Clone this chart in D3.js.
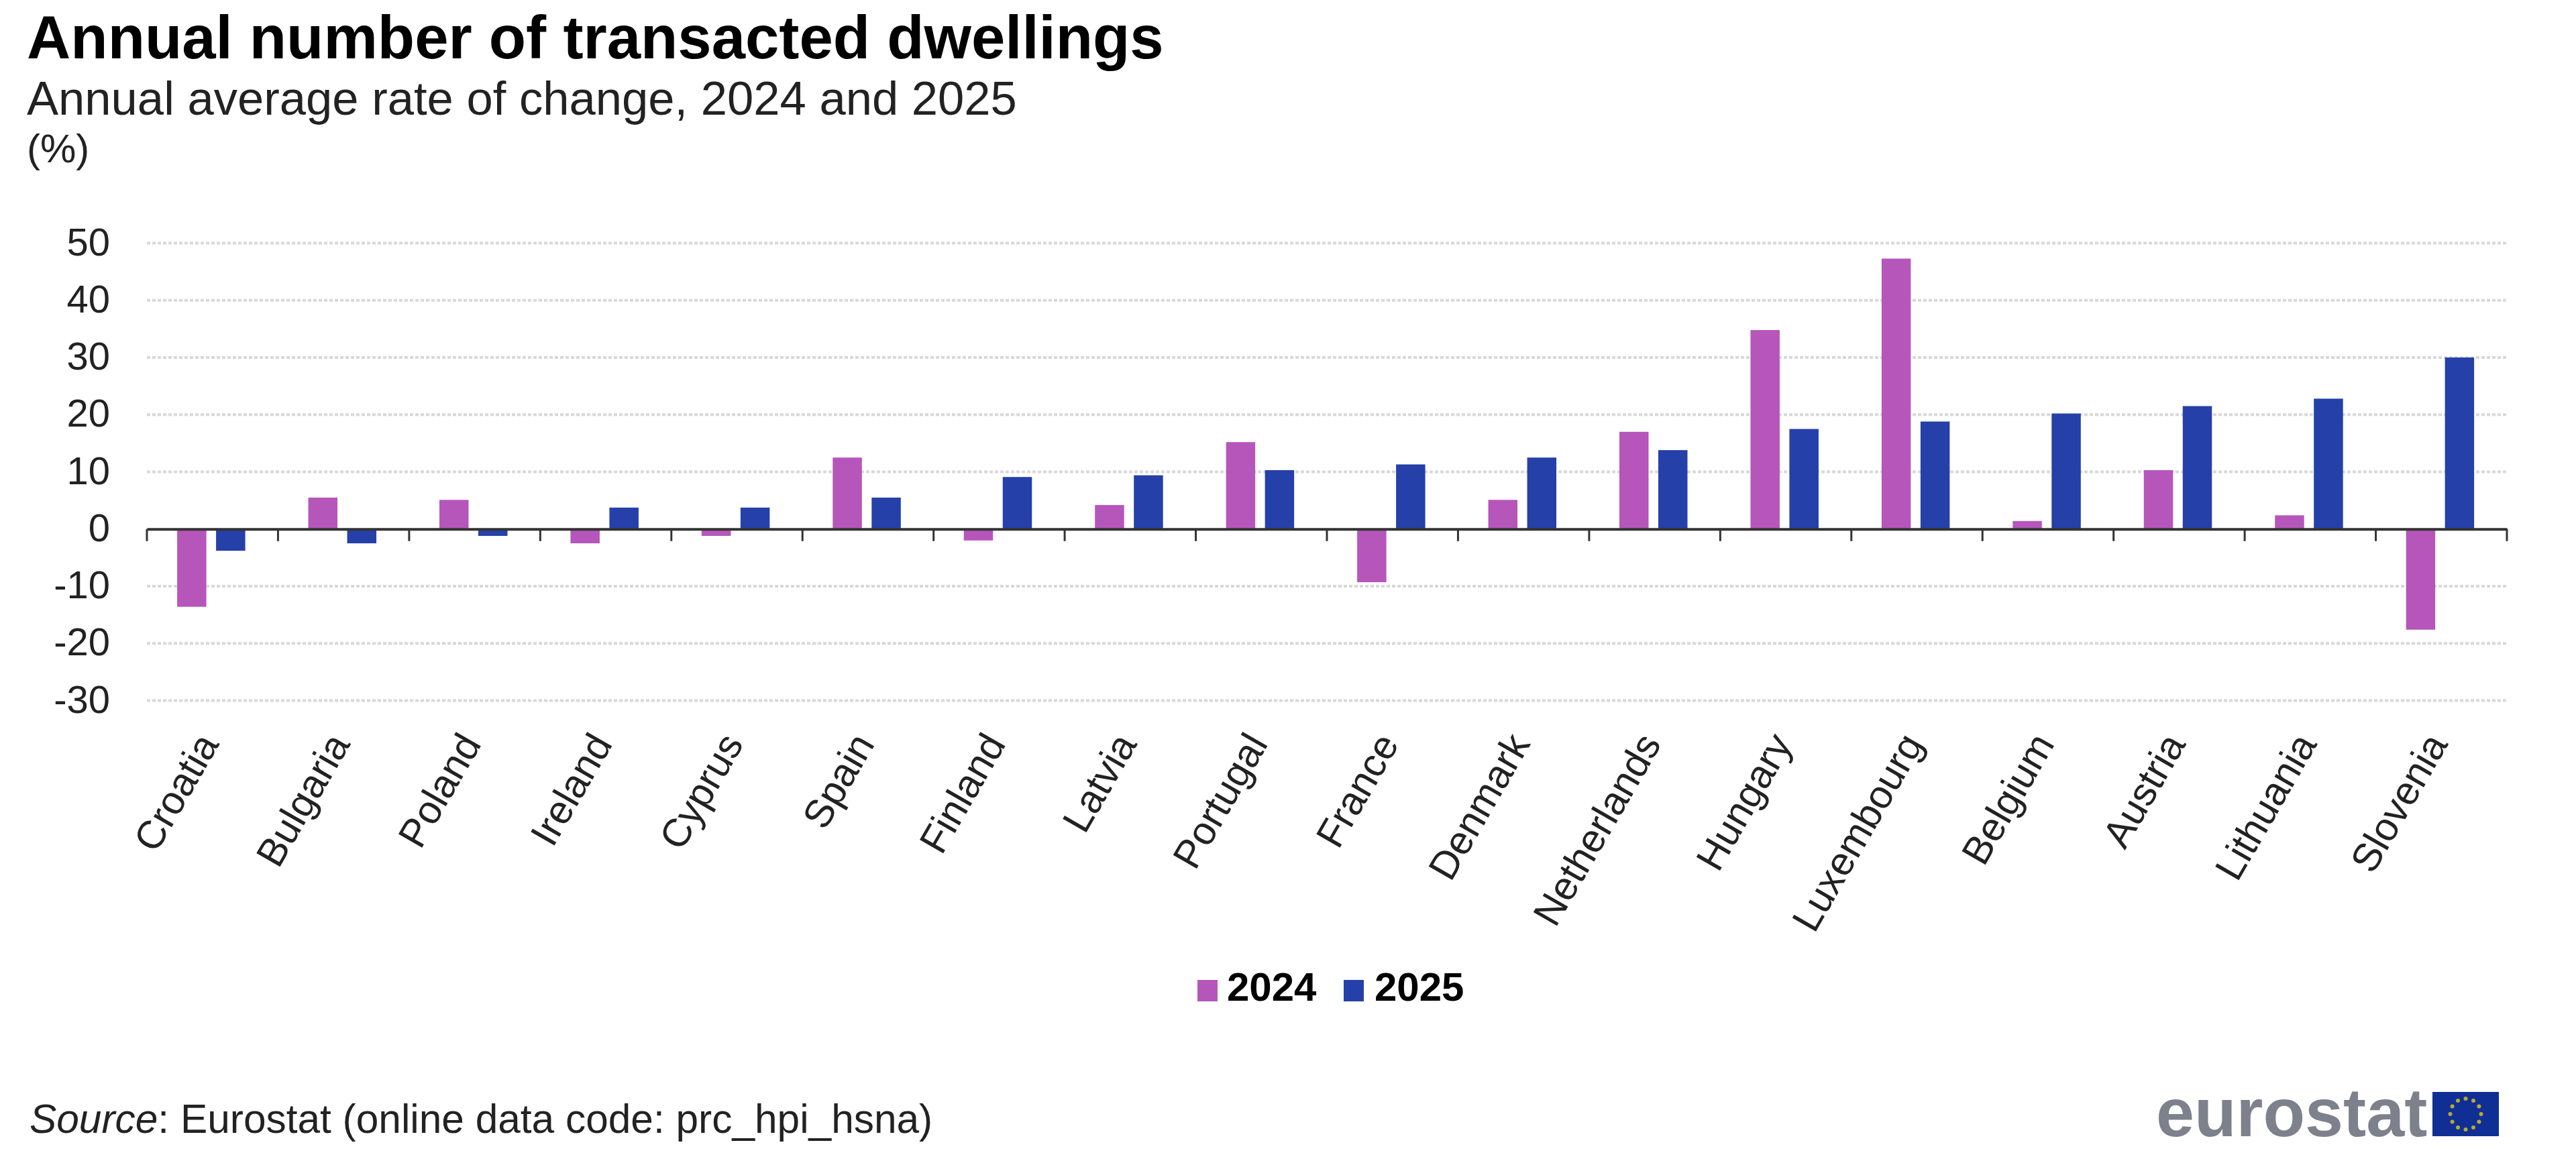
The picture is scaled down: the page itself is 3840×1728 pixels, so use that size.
<!DOCTYPE html>
<html><head><meta charset="utf-8">
<script src="https://cdn.jsdelivr.net/npm/d3@7"></script>
<style>
html,body{margin:0;padding:0;background:#fff}
svg{display:block}
text{font-family:"Liberation Sans",Arial,sans-serif}
</style></head><body>
<script>
// Annual number of transacted dwellings, rate of change by country
const countries = ["Croatia","Bulgaria","Poland","Ireland","Cyprus","Spain","Finland","Latvia","Portugal","France","Denmark","Netherlands","Hungary","Luxembourg","Belgium","Austria","Lithuania","Slovenia"];
const values2024 = [-13.6,5.5,5.1,-2.5,-1.2,12.5,-2.0,4.2,15.2,-9.3,5.1,17.0,34.8,47.3,1.4,10.3,2.4,-17.6];
const values2025 = [-3.8,-2.5,-1.2,3.75,3.75,5.5,9.1,9.4,10.3,11.3,12.5,13.8,17.5,18.8,20.2,21.5,22.8,30.0];
const seriesNames = ["2024","2025"];
const seriesColors = ["#b656bb","#2540a8"];
const yTicks = [50,40,30,20,10,0,-10,-20,-30];

const width = 3840, height = 1728;
const svg = d3.select("body").append("svg").attr("width",width).attr("height",height);

const x = d3.scaleBand().domain(countries).range([219,3737]);
const y = d3.scaleLinear().domain([-30,50]).range([1044.5,362.5]);
const inner = d3.scaleBand().domain(seriesNames).range([0,x.bandwidth()])
  .paddingInner(0.25).paddingOuter(0.81).align(0.48);

// Dotted horizontal gridlines
svg.append("g").selectAll("line").data(yTicks.filter(t=>t!==0)).join("line")
  .attr("x1",219).attr("x2",3737).attr("y1",d=>y(d)).attr("y2",d=>y(d))
  .attr("stroke","#d8d8d8").attr("stroke-width",4).attr("stroke-dasharray","5 3");

// Bars, one group per series
[values2024,values2025].forEach((vals,i)=>{
  svg.append("g").attr("fill",seriesColors[i]).selectAll("rect").data(vals).join("rect")
    .attr("x",(d,k)=>x(countries[k])+inner(seriesNames[i]))
    .attr("width",inner.bandwidth())
    .attr("y",d=>y(Math.max(d,0)))
    .attr("height",d=>Math.abs(y(d)-y(0)));
});

// Value axis labels
svg.append("g").selectAll("text").data(yTicks).join("text")
  .attr("x",164).attr("y",d=>y(d)+18).attr("text-anchor","end")
  .attr("font-size",58).attr("fill","#222").text(d=>d);

// Zero line with category ticks
const axis = svg.append("g").attr("transform",`translate(0,${y(0)})`)
  .call(d3.axisBottom(x).tickSize(0).tickFormat(""));
axis.select(".domain").attr("stroke","#333").attr("stroke-width",4);
axis.selectAll(".tick").remove();
const edges = countries.map(c=>x(c)).concat([x.range()[1]]);
svg.append("g").selectAll("line").data(edges).join("line")
  .attr("x1",d=>d).attr("x2",d=>d).attr("y1",y(0)).attr("y2",y(0)+18)
  .attr("stroke","#333").attr("stroke-width",3);

// Rotated country labels
svg.append("g").selectAll("text").data(countries).join("text")
  .attr("text-anchor","end").attr("font-size",59).attr("fill","#222")
  .attr("transform",d=>`translate(${x(d)+x.bandwidth()/2+11},${1109}) rotate(-60)`)
  .text(d=>d);

// Headings
svg.append("text").attr("x",40).attr("y",87).attr("font-size",90.5).attr("font-weight",700).attr("fill","#000").text("Annual number of transacted dwellings");
svg.append("text").attr("x",40).attr("y",171).attr("font-size",70.6).attr("fill","#222").text("Annual average rate of change, 2024 and 2025");
svg.append("text").attr("x",40).attr("y",242).attr("font-size",60).attr("fill","#222").text("(%)");

// Legend
const legendX = [1785,2003];
const legendTextX = [1829,2049];
seriesNames.forEach((s,i)=>{
  svg.append("rect").attr("x",legendX[i]).attr("y",1461).attr("width",30).attr("height",32).attr("fill",seriesColors[i]);
  svg.append("text").attr("x",legendTextX[i]).attr("y",1492).attr("font-size",60).attr("font-weight",700).attr("fill","#000").text(s);
});

// Source line
const src = svg.append("text").attr("x",44).attr("y",1689).attr("font-size",60.4).attr("fill","#222");
src.append("tspan").attr("font-style","italic").text("Source");
src.append("tspan").text(": Eurostat (online data code: prc_hpi_hsna)");

// Eurostat wordmark and flag
svg.append("text").attr("x",3214).attr("y",1694).attr("font-size",102.5).attr("font-weight",700).attr("fill","#7c818b").text("eurostat");
svg.append("rect").attr("x",3626).attr("y",1628).attr("width",99).attr("height",66).attr("fill","#0f2f94");
svg.append("g").selectAll("circle").data(d3.range(12)).join("circle")
  .attr("cx",d=>3675.5+23*Math.sin(d*Math.PI/6)).attr("cy",d=>1661-23*Math.cos(d*Math.PI/6))
  .attr("r",3).attr("fill","#b9a93a");
</script>
</body></html>
